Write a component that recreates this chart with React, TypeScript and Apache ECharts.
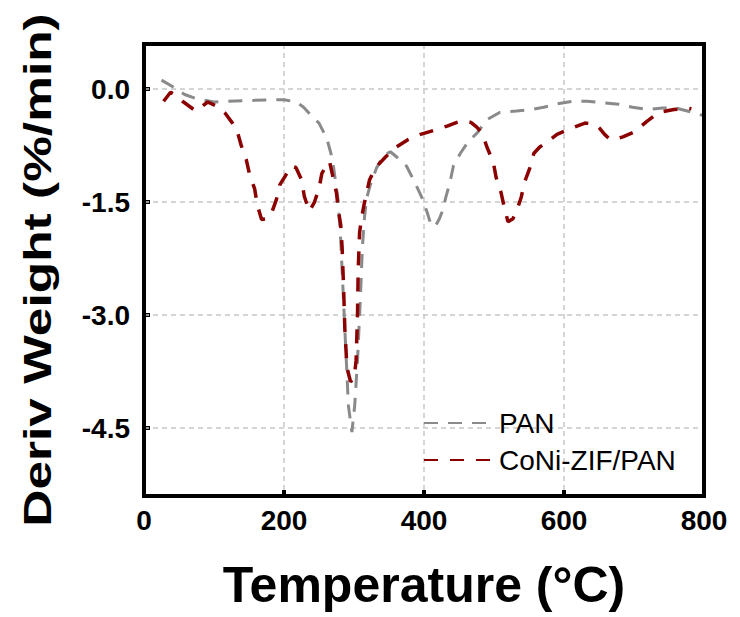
import React, { useEffect, useRef } from "react";
import * as echarts from "echarts";

const FONT = '"Liberation Sans", Arial, sans-serif';

const seriesNames = ["PAN", "CoNi-ZIF/PAN"];
const xTicks = [0, 200, 400, 600, 800];
const yTicks = [0, -1.5, -3.0, -4.5];

const panTemps = [25, 40, 58, 76, 100, 120, 150, 180, 200, 218, 228, 237, 250, 261, 267, 271, 277, 281, 285, 289, 292, 297, 301, 305, 309, 312, 315, 318, 323, 332, 342, 352, 361, 368, 375, 387, 397, 404, 410, 416, 422, 427, 431, 437, 442, 452, 463, 477, 489, 508, 532, 553, 571, 593, 612, 633, 655, 678, 698, 719, 741, 760, 781, 795, 800];
const panValues = [0.12, 0.04, -0.07, -0.13, -0.17, -0.16, -0.15, -0.14, -0.14, -0.17, -0.24, -0.33, -0.45, -0.65, -0.85, -1.05, -1.45, -2.0, -2.8, -3.6, -4.2, -4.55, -4.2, -3.6, -2.8, -2.1, -1.7, -1.45, -1.28, -1.05, -0.88, -0.83, -0.9, -0.96, -1.02, -1.24, -1.44, -1.62, -1.8, -1.82, -1.72, -1.6, -1.44, -1.24, -1.02, -0.85, -0.7, -0.57, -0.41, -0.31, -0.29, -0.27, -0.24, -0.19, -0.16, -0.16, -0.18, -0.2, -0.24, -0.27, -0.25, -0.25, -0.3, -0.34, -0.35];

const coniTemps = [28, 38, 46, 55, 74, 84, 91, 105, 116, 124, 132, 139, 146, 151, 158, 162, 168, 176, 182, 189, 194, 204, 210, 217, 225, 229, 236, 243, 250, 254, 260, 265, 271, 275, 278, 281, 283, 285, 287, 290, 295, 300, 303, 305, 306, 308, 311, 314, 318, 322, 330, 345, 360, 377, 395, 413, 433, 447, 456, 467, 475, 483, 490, 499, 503, 510, 515, 520, 527, 533, 539, 543, 551, 557, 565, 573, 590, 610, 630, 643, 651, 658, 665, 672, 685, 700, 718, 735, 757, 777, 782];
const coniValues = [-0.16, -0.04, -0.08, -0.16, -0.29, -0.22, -0.17, -0.23, -0.32, -0.42, -0.52, -0.75, -0.93, -1.14, -1.32, -1.54, -1.73, -1.72, -1.65, -1.47, -1.27, -1.12, -1.02, -1.04, -1.2, -1.42, -1.62, -1.51, -1.32, -1.12, -1.02, -0.96, -1.21, -1.38, -1.63, -1.8, -2.1, -2.6, -3.2, -3.7, -3.88, -3.85, -3.6, -3.0, -2.4, -1.9, -1.7, -1.55, -1.38, -1.21, -1.05, -0.9, -0.77, -0.67, -0.6, -0.55, -0.49, -0.44, -0.42, -0.44, -0.5, -0.58, -0.77, -0.97, -1.17, -1.37, -1.58, -1.76, -1.72, -1.6, -1.43, -1.25, -1.05, -0.85, -0.77, -0.72, -0.6, -0.52, -0.45, -0.46, -0.52, -0.6, -0.66, -0.67, -0.63, -0.57, -0.43, -0.31, -0.27, -0.25, -0.26];

const zip = (xs: number[], ys: number[]) => xs.map((x, i) => [x, ys[i]]);

const gridLineStyle = { color: "#c8c8c8", width: 1.5, type: [5, 4] };

export default function App() {
  const ref = useRef<HTMLDivElement>(null);
  useEffect(() => {
    const chart = echarts.init(ref.current!, null, { renderer: "svg" });
    chart.setOption({
      animation: false,
      backgroundColor: "#fff",
      textStyle: { fontFamily: FONT },
      grid: {
        left: 144,
        right: 36,
        top: 44,
        bottom: 121,
        show: true,
        borderColor: "#000",
        borderWidth: 4,
        backgroundColor: "transparent",
        z: 3,
      },
      legend: {
        data: seriesNames,
        orient: "vertical",
        left: 418,
        top: 404,
        itemWidth: 70,
        itemHeight: 14,
        itemGap: 9,
        itemStyle: { opacity: 0 },
        textStyle: { fontSize: 28, color: "#000", fontFamily: FONT },
      },
      xAxis: {
        type: "value",
        min: xTicks[0],
        max: xTicks[xTicks.length - 1],
        interval: 200,
        name: "Temperature (°C)",
        nameLocation: "middle",
        nameGap: 64,
        nameTextStyle: { fontSize: 50, fontWeight: "bold", color: "#000", fontFamily: FONT },
        axisLine: { show: true, onZero: false, lineStyle: { color: "#000", width: 4 } },
        axisTick: { show: true, inside: true, length: 6, lineStyle: { color: "#000", width: 4 } },
        axisLabel: { fontSize: 28, fontWeight: "bold", color: "#000", margin: 10, fontFamily: FONT },
        splitLine: { show: true, lineStyle: gridLineStyle },
      },
      yAxis: {
        type: "value",
        min: -5.4,
        max: 0.6,
        axisLine: { show: true, onZero: false, lineStyle: { color: "#000", width: 4 } },
        axisTick: {
          show: true,
          inside: true,
          length: 6,
          customValues: yTicks,
          lineStyle: { color: "#000", width: 4 },
        },
        axisLabel: {
          fontSize: 28,
          fontWeight: "bold",
          color: "#000",
          margin: 14,
          fontFamily: FONT,
          customValues: yTicks,
          formatter: (v: number) => v.toFixed(1),
        },
        splitLine: { show: false },
      },
      graphic: [
        {
          type: "text",
          x: 38,
          y: 270,
          rotation: Math.PI / 2,
          scaleX: 1.05,
          scaleY: 0.78,
          style: {
            text: "Deriv Weight (%/min)",
            fontSize: 49,
            fontWeight: "bold",
            fontFamily: FONT,
            fill: "#000",
            align: "center",
            verticalAlign: "middle",
          },
        },
      ],
      series: [
        {
          name: seriesNames[0],
          type: "line",
          data: zip(panTemps, panValues),
          symbol: "none",
          smooth: false,
          itemStyle: { color: "#8a8a8a" },
          lineStyle: { color: "#8a8a8a", width: 3, type: [14, 10] },
          z: 2,
          markLine: {
            silent: true,
            z: 1,
            symbol: ["none", "none"],
            label: { show: false },
            emphasis: { disabled: true },
            lineStyle: gridLineStyle,
            data: yTicks.map((v) => ({ yAxis: v })),
          },
        },
        {
          name: seriesNames[1],
          type: "line",
          data: zip(coniTemps, coniValues),
          symbol: "none",
          smooth: false,
          itemStyle: { color: "#8b0000" },
          lineStyle: { color: "#8b0000", width: 3.5, type: [14, 12] },
          z: 2,
        },
      ],
    });
    return () => chart.dispose();
  }, []);
  return (
    <div
      ref={ref}
      style={{ position: "absolute", left: 0, top: 0, width: 740, height: 617, background: "#fff" }}
    />
  );
}
